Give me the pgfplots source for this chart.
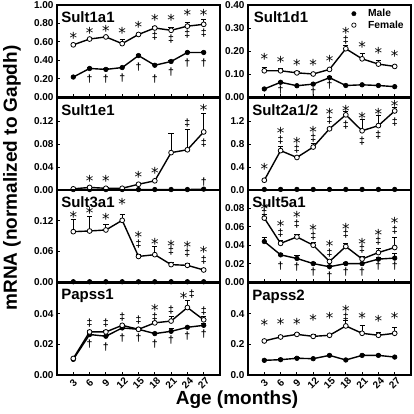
\documentclass[border=0pt]{standalone}
\usepackage{pgfplots}
\pgfplotsset{compat=1.18}
\usepackage{fontspec}
\setmainfont{Liberation Sans}
\newfontfamily\dejavu{DejaVu Sans}
\newcommand{\St}{\smash{\raisebox{-0.55em}{\dejavu *}}}
\tikzset{ttl/.style={anchor=north west, font=\fontsize{15}{15}\selectfont\bfseries, inner sep=0pt}}
\pgfplotsset{
  panel/.style={scale only axis, width=163pt, height=92pt,
    xmin=0, xmax=30, ymin=0,
    xtick={3,6,9,12,15,18,21,24,27}, xticklabels={},
    xtick pos=bottom, ytick pos=left,
    tick align=inside, major tick length=3pt,
    axis line style={line width=1.3pt},
    every tick/.style={black, line width=0.9pt},
    clip=false, scaled y ticks=false,
    /pgf/number format/assume math mode=true,
    yticklabel style={font=\fontsize{10}{10}\selectfont\bfseries,
      /pgf/number format/fixed, /pgf/number format/fixed zerofill,
      /pgf/number format/precision=2},
  },
  prec1/.style={yticklabel style={/pgf/number format/precision=1}},
  ebars/.style={error bars/y dir=plus, error bars/y explicit, error bars/error bar style={line width=1pt}, error bars/error mark options={rotate=90, mark size=2.6pt, line width=1pt}},
  male/.style={black, line width=1.4pt, mark=*, mark size=2.3pt, mark options={fill=black, line width=0.6pt}, ebars},
  female/.style={black, line width=1.4pt, mark=*, mark size=2.4pt, mark options={fill=white, line width=0.8pt}, ebars},
  star/.style={forget plot, only marks, mark=none, nodes near coords={\St},
    every node near coord/.append style={anchor=center, inner sep=0pt, font=\fontsize{15}{15}\selectfont}},
  ddag/.style={forget plot, only marks, mark=none, nodes near coords={‡},
    every node near coord/.append style={anchor=center, inner sep=0pt, font=\fontsize{10.5}{10.5}\selectfont\bfseries}},
  dag/.style={forget plot, only marks, mark=none, nodes near coords={†},
    every node near coord/.append style={anchor=center, inner sep=0pt, font=\fontsize{10.5}{10.5}\selectfont\bfseries}},
}
\begin{document}
\begin{tikzpicture}
\path[use as bounding box] (0,0) rectangle (414pt,413pt);
% ---------- Row 1 left: Sult1a1
\begin{axis}[panel, at={(57pt,316pt)}, anchor=south west, ymax=1.0, ytick={0,0.2,0.4,0.6,0.8,1.0}]
\addplot[male, forget plot] coordinates {(3,0.217) +- (0,0.01) (6,0.31) +- (0,0.01) (9,0.30) +- (0,0.01) (12,0.32) +- (0,0.01) (15,0.45) +- (0,0.015) (18,0.345) +- (0,0.01) (21,0.386) +- (0,0.01) (24,0.484) +- (0,0.015) (27,0.484) +- (0,0.01)};
\addplot[female, forget plot] coordinates {(3,0.567) +- (0,0.01) (6,0.63) +- (0,0.01) (9,0.653) +- (0,0.01) (12,0.58) +- (0,0.05) (15,0.68) +- (0,0.01) (18,0.75) +- (0,0.02) (21,0.725) +- (0,0.033) (24,0.77) +- (0,0.04) (27,0.79) +- (0,0.05)};
\addplot[star] coordinates {(3,0.675)(6,0.73)(9,0.75)(12,0.73)(15,0.79)(18,0.866)(21,0.866)(24,0.92)(27,0.92)};
\addplot[ddag] coordinates {(18,0.657)(21,0.63)(24,0.68)(27,0.69)};
\addplot[dag] coordinates {(6,0.20)(9,0.20)(12,0.21)(15,0.33)(18,0.20)(21,0.27)(24,0.37)(27,0.37)};
\node[ttl] at (rel axis cs:0.025,0.93) {Sult1a1};
\end{axis}
% ---------- Row 1 right: Sult1d1
\begin{axis}[panel, at={(248pt,316pt)}, anchor=south west, ymax=0.40, ytick={0,0.1,0.2,0.3,0.4},
  legend style={at={(rel axis cs:0.635,1)}, anchor=north west, draw=none, fill=none, font=\fontsize{10.3}{10.3}\selectfont\bfseries, inner xsep=0pt, inner ysep=2pt, row sep=-1.5pt,
    /tikz/every odd column/.append style={column sep=10pt}},
  legend image code/.code={\draw[#1, only marks] plot coordinates {(0cm,0cm)};},
  legend cell align=left]
\addplot[male, forget plot] coordinates {(3,0.035) +- (0,0.002) (6,0.064) +- (0,0.003) (9,0.049) +- (0,0.002) (12,0.056) +- (0,0.004) (15,0.084) +- (0,0.003) (18,0.05) +- (0,0.002) (21,0.053) +- (0,0.002) (24,0.05) +- (0,0.002) (27,0.045) +- (0,0.002)};
\addplot[female, forget plot] coordinates {(3,0.114) +- (0,0.016) (6,0.114) +- (0,0.01) (9,0.105) +- (0,0.004) (12,0.10) +- (0,0.004) (15,0.12) +- (0,0.004) (18,0.21) +- (0,0.012) (21,0.166) +- (0,0.025) (24,0.143) +- (0,0.016) (27,0.133) +- (0,0.005)};
\addplot[star] coordinates {(3,0.176)(6,0.162)(9,0.15)(12,0.15)(15,0.169)(18,0.29)(21,0.23)(24,0.202)(27,0.19)};
\addplot[ddag] coordinates {(18,0.248)};
\addplot[dag] coordinates {(6,0.032)(12,0.02)(15,0.053)};
\node[ttl] at (rel axis cs:0.035,0.93) {Sult1d1};
\addlegendimage{only marks, mark=*, mark size=2.2pt, mark options={fill=black}}
\addlegendentry{Male}
\addlegendimage{only marks, mark=*, mark size=2.2pt, mark options={fill=white, line width=0.7pt}}
\addlegendentry{Female}
\end{axis}
% ---------- Row 2 left: Sult1e1
\begin{axis}[panel, at={(57pt,223pt)}, anchor=south west, ymax=0.16, ytick={0,0.04,0.08,0.12}]
\addplot[male, forget plot] coordinates {(3,0.0008) +- (0,0) (6,0.0008) +- (0,0) (9,0.0008) +- (0,0) (12,0.0008) +- (0,0) (15,0.0008) +- (0,0) (18,0.0008) +- (0,0) (21,0.0008) +- (0,0) (24,0.0008) +- (0,0) (27,0.0015) +- (0,0)};
\addplot[female, forget plot] coordinates {(3,0.002) +- (0,0.0005) (6,0.0045) +- (0,0.001) (9,0.003) +- (0,0.0005) (12,0.003) +- (0,0.0005) (15,0.010) +- (0,0.001) (18,0.016) +- (0,0.001) (21,0.065) +- (0,0.034) (24,0.070) +- (0,0.036) (27,0.101) +- (0,0.032)};
\addplot[star] coordinates {(6,0.020)(9,0.020)(15,0.028)(18,0.034)(27,0.144)};
\addplot[ddag] coordinates {(24,0.117)(27,0.081)};
\addplot[dag] coordinates {(27,0.013)};
\node[ttl] at (rel axis cs:0.025,0.93) {Sult1e1};
\end{axis}
% ---------- Row 2 right: Sult2a1/2
\begin{axis}[panel, prec1, at={(248pt,223pt)}, anchor=south west, ymax=1.6, ytick={0,0.4,0.8,1.2}]
\addplot[male, forget plot] coordinates {(3,0.01) +- (0,0) (6,0.01) +- (0,0) (9,0.01) +- (0,0) (12,0.01) +- (0,0) (15,0.01) +- (0,0) (18,0.01) +- (0,0) (21,0.01) +- (0,0) (24,0.01) +- (0,0) (27,0.01) +- (0,0)};
\addplot[female, forget plot] coordinates {(3,0.17) +- (0,0.01) (6,0.685) +- (0,0.07) (9,0.566) +- (0,0.02) (12,0.747) +- (0,0.06) (15,1.064) +- (0,0.02) (18,1.307) +- (0,0.05) (21,1.03) +- (0,0.19) (24,1.12) +- (0,0.18) (27,1.375) +- (0,0.06)};
\addplot[star] coordinates {(3,0.41)(6,1.036)(9,0.866)(12,1.064)(15,1.375)(18,1.43)(21,1.30)(24,1.375)(27,1.517)};
\addplot[ddag] coordinates {(6,0.87)(9,0.707)(12,0.91)(15,1.22)(18,1.13)(21,0.85)(24,0.96)(27,1.19)};
\node[ttl] at (rel axis cs:0.025,0.93) {Sult2a1/2};
\end{axis}
% ---------- Row 3 left: Sult3a1
\begin{axis}[panel, at={(57pt,131pt)}, anchor=south west, ymax=0.18, ytick={0,0.06,0.12}]
\addplot[male, forget plot] coordinates {(3,0.0005) +- (0,0) (6,0.0005) +- (0,0) (9,0.0005) +- (0,0) (12,0.0005) +- (0,0) (15,0.0005) +- (0,0) (18,0.0005) +- (0,0) (21,0.0005) +- (0,0) (24,0.0005) +- (0,0) (27,0.0005) +- (0,0)};
\addplot[female, forget plot] coordinates {(3,0.0985) +- (0,0.024) (6,0.0998) +- (0,0.028) (9,0.1018) +- (0,0.01) (12,0.1207) +- (0,0.012) (15,0.050) +- (0,0.004) (18,0.0535) +- (0,0.016) (21,0.034) +- (0,0.004) (24,0.0326) +- (0,0.003) (27,0.0235) +- (0,0.003)};
\addplot[star] coordinates {(3,0.132)(6,0.14)(9,0.128)(12,0.158)(15,0.094)(18,0.080)(21,0.076)(24,0.073)(27,0.0646)};
\addplot[ddag] coordinates {(15,0.074)(21,0.060)(24,0.057)(27,0.0437)};
\node[ttl] at (rel axis cs:0.025,0.93) {Sult3a1};
\end{axis}
% ---------- Row 3 right: Sult5a1
\begin{axis}[panel, at={(248pt,131pt)}, anchor=south west, ymax=0.10, ytick={0,0.02,0.04,0.06,0.08}]
\addplot[male, forget plot] coordinates {(3,0.044) +- (0,0.004) (6,0.0295) +- (0,0.002) (9,0.0256) +- (0,0.003) (12,0.020) +- (0,0.001) (15,0.0166) +- (0,0.001) (18,0.020) +- (0,0.001) (21,0.020) +- (0,0.001) (24,0.0249) +- (0,0.002) (27,0.026) +- (0,0.005)};
\addplot[female, forget plot] coordinates {(3,0.0695) +- (0,0.004) (6,0.042) +- (0,0.003) (9,0.049) +- (0,0.003) (12,0.040) +- (0,0.003) (15,0.0223) +- (0,0.002) (18,0.0386) +- (0,0.003) (21,0.025) +- (0,0.003) (24,0.032) +- (0,0.004) (27,0.0375) +- (0,0.011)};
\addplot[star] coordinates {(3,0.0825)(6,0.0634)(9,0.074)(12,0.060)(15,0.0418)(18,0.061)(21,0.0447)(24,0.0537)(27,0.067)};
\addplot[ddag] coordinates {(3,0.0745)(6,0.0537)(9,0.0634)(12,0.050)(15,0.032)(18,0.052)(21,0.0357)(24,0.0447)(27,0.057)};
\addplot[dag] coordinates {(6,0.0177)(9,0.0166)(12,0.0105)(15,0.0068)(18,0.0105)(21,0.0105)(24,0.0177)(27,0.0177)};
\node[ttl] at (rel axis cs:0.025,0.93) {Sult5a1};
\end{axis}
% ---------- Row 4 left: Papss1
\begin{axis}[panel, at={(57pt,38pt)}, anchor=south west, ymax=0.06, ytick={0,0.02,0.04},
  xticklabels={3,6,9,12,15,18,21,24,27}, xticklabel shift=8pt,
  xticklabel style={rotate=45, anchor=center, font=\fontsize{10}{10}\selectfont\bfseries}]
\addplot[male, forget plot] coordinates {(3,0.0102) +- (0,0.0003) (6,0.0264) +- (0,0.0005) (9,0.0253) +- (0,0.0006) (12,0.0307) +- (0,0.0006) (15,0.0298) +- (0,0.0005) (18,0.027) +- (0,0.0006) (21,0.0285) +- (0,0.002) (24,0.0311) +- (0,0.0008) (27,0.0324) +- (0,0.001)};
\addplot[female, forget plot] coordinates {(3,0.0108) +- (0,0.0003) (6,0.0281) +- (0,0.0008) (9,0.0281) +- (0,0.0008) (12,0.0324) +- (0,0.0008) (15,0.0298) +- (0,0.0006) (18,0.034) +- (0,0.001) (21,0.0352) +- (0,0.003) (24,0.044) +- (0,0.0045) (27,0.036) +- (0,0.002)};
\addplot[star] coordinates {(18,0.0443)(23.3,0.052)};
\addplot[ddag] coordinates {(6,0.034)(9,0.034)(12,0.0378)(15,0.0357)(18,0.0378)(21,0.0426)(24.8,0.0525)(27,0.0415)};
\addplot[dag] coordinates {(6,0.0199)(9,0.0184)(12,0.0242)(15,0.0238)(18,0.0205)(21,0.0227)(24,0.0253)(27,0.027)};
\node[ttl] at (rel axis cs:0.025,0.93) {Papss1};
\end{axis}
% ---------- Row 4 right: Papss2
\begin{axis}[panel, prec1, at={(248pt,38pt)}, anchor=south west, ymax=0.6, ytick={0,0.2,0.4},
  xticklabels={3,6,9,12,15,18,21,24,27}, xticklabel shift=8pt,
  xticklabel style={rotate=45, anchor=center, font=\fontsize{10}{10}\selectfont\bfseries}]
\addplot[male, forget plot] coordinates {(3,0.0957) +- (0,0.004) (6,0.10) +- (0,0.008) (9,0.109) +- (0,0.004) (12,0.1065) +- (0,0.004) (15,0.128) +- (0,0.005) (18,0.098) +- (0,0.004) (21,0.128) +- (0,0.004) (24,0.128) +- (0,0.006) (27,0.117) +- (0,0.004)};
\addplot[female, forget plot] coordinates {(3,0.222) +- (0,0.006) (6,0.248) +- (0,0.012) (9,0.265) +- (0,0.006) (12,0.252) +- (0,0.015) (15,0.259) +- (0,0.006) (18,0.32) +- (0,0.035) (21,0.272) +- (0,0.05) (24,0.259) +- (0,0.02) (27,0.272) +- (0,0.04)};
\addplot[star] coordinates {(3,0.346)(6,0.348)(9,0.348)(12,0.378)(15,0.389)(18,0.433)(21,0.391)(24,0.37)(27,0.391)};
\addplot[ddag] coordinates {(18,0.378)};
\node[ttl] at (rel axis cs:0.025,0.93) {Papss2};
\end{axis}
% ---------- axis labels
\node[font=\fontsize{19}{19}\selectfont\bfseries] at (237pt,13pt) {Age (months)};
\node[font=\fontsize{19}{19}\selectfont\bfseries, rotate=90] at (12pt,235pt) {mRNA (normalized to Gapdh)};
\end{tikzpicture}
\end{document}
